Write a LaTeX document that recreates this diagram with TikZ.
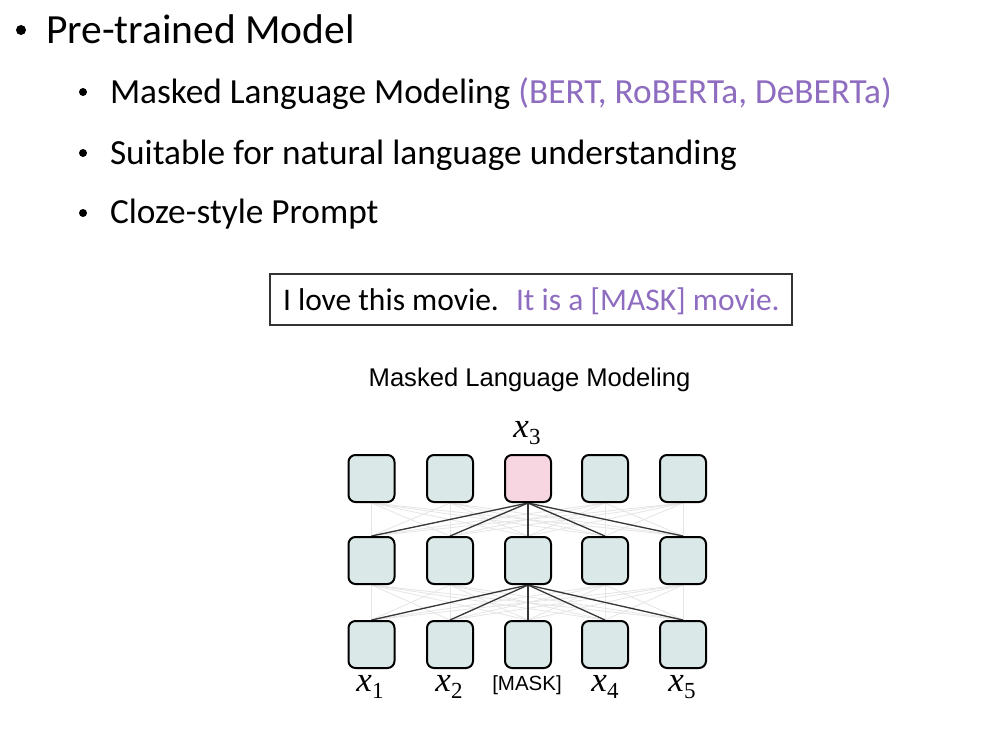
\documentclass[tikz,border=0pt]{standalone}
\usepackage{fontspec}
\setmainfont{Carlito}
\newfontfamily\slidefont{Carlito}
\newfontfamily\boxfont{Carlito}
\newfontfamily\helv{Liberation Sans}
\newfontfamily\tms{Liberation Serif}
\usetikzlibrary{backgrounds}
\definecolor{purp}{RGB}{142,108,192}
\definecolor{cellfill}{RGB}{218,232,231}
\definecolor{pinkfill}{RGB}{247,214,225}
\definecolor{darkline}{RGB}{55,55,55}
\newcommand\xlab[1]{{\tms\fontsize{35}{35}\selectfont\itshape x}\raisebox{-7.5pt}{\tms\fontsize{23}{23}\selectfont #1}}
\tikzset{
  txt/.style={anchor=base west, inner sep=0pt, outer sep=0pt},
  lvlone/.style={txt, font=\slidefont\fontsize{41.5}{44}\selectfont},
  lvltwo/.style={txt, font=\slidefont\fontsize{35.3}{38}\selectfont},
  cell/.style={draw=black, line width=2pt, rounded corners=7pt, fill=cellfill,
    minimum width=46pt, minimum height=47pt, inner sep=0pt},
  pinkcell/.style={cell, fill=pinkfill},
  faint/.style={draw=black!10, line width=0.8pt},
  strong/.style={draw=darkline, line width=1.3pt},
  bullet/.style={fill=black},
  lab/.style={anchor=base, inner sep=0pt}
}
\begin{document}
\begin{tikzpicture}[x=1pt,y=-1pt]
\useasboundingbox (0,0) rectangle (984,732);

% bullets and text
\fill[bullet] (21,30) circle (5);
\node[lvlone] (h1) at (46,43) {Pre-trained Model};
\fill[bullet] (83,92) circle (4);
\node[lvltwo] (h2) at (110,103) {Masked Language Modeling \textcolor{purp}{(BERT, RoBERTa, DeBERTa)}};
\fill[bullet] (83,153) circle (4);
\node[lvltwo] (h3) at (110,164) {Suitable for natural language understanding};
\fill[bullet] (83,213) circle (4);
\node[lvltwo] (h4) at (110,223) {Cloze-style Prompt};

% prompt box
\node[draw=black!80, line width=1.2pt, minimum width=522pt, minimum height=51pt, inner sep=0pt] (prompt) at (531,299.5) {};
\node[txt, font=\boxfont\fontsize{31.5}{34}\selectfont] (p1) at (283,310) {I love this movie.};
\node[txt, font=\boxfont\fontsize{31.5}{34}\selectfont, text=purp] (p2) at (516,310) {It is a [MASK] movie.};

% title
\node[anchor=base, inner sep=0pt, font=\helv\fontsize{25.6}{28}\selectfont] (title) at (529.5,386) {Masked Language Modeling};

% grid
\foreach \i/\x in {1/371.5,2/450,3/528,4/605,5/683}{
  \node[cell] (m\i) at (\x,560.5) {};
  \node[cell] (b\i) at (\x,644.5) {};
}
\foreach \i/\x in {1/371.5,2/450,4/605,5/683}{
  \node[cell] (t\i) at (\x,478.5) {};
}
\node[pinkcell] (t3) at (528,478.5) {};

\begin{scope}[on background layer]
  \fill[white] (0,0) rectangle (984,732);
  \foreach \i in {1,...,5}{
    \foreach \j in {1,...,5}{
      \draw[faint] (m\i.north) -- (t\j.south);
      \draw[faint] (b\i.north) -- (m\j.south);
    }
  }
  \foreach \i in {1,...,5}{
    \draw[strong] (t3.south) -- (m\i.north);
    \draw[strong] (m3.south) -- (b\i.north);
  }
\end{scope}

% labels
\node[lab] (lx3) at (527,437) {\xlab{3}};
\node[lab] (lx1) at (370,691) {\xlab{1}};
\node[lab] (lx2) at (449,691) {\xlab{2}};
\node[lab, font=\helv\fontsize{20.5}{22}\selectfont] (lmask) at (527,690) {[MASK]};
\node[lab] (lx4) at (605,691) {\xlab{4}};
\node[lab] (lx5) at (682,691) {\xlab{5}};
\end{tikzpicture}
\end{document}
